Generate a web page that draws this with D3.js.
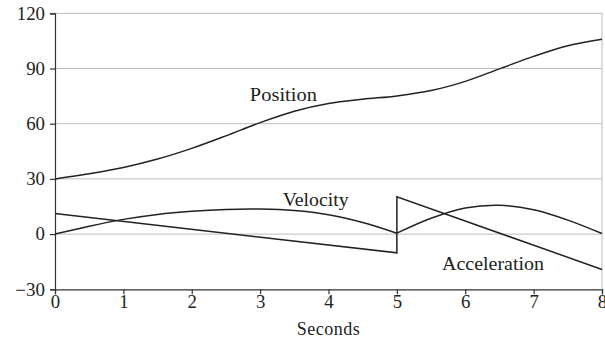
<!DOCTYPE html>
<html>
  <head>
    <meta charset="utf-8" />
    <style>
      body { margin: 0; background: #fff; }
      svg text { font-family: "Liberation Serif", "DejaVu Serif", "Times New Roman", serif; fill: #222; }
      .grid line { stroke: #bdbdbd; stroke-width: 1px; }
      .axis path, .axis line { stroke: #333; stroke-width: 1.2px; }
      .axis text { font-size: 18px; }
      .series { fill: none; stroke: #222; stroke-width: 1.5px; }
    </style>
  </head>
  <body>
    <svg width="605" height="339"></svg>
    <script src="https://d3js.org/d3.v7.min.js"></script>
    <script>
      // values
      var posT = [0, 0.5, 1, 1.5, 2, 2.5, 3, 3.5, 4, 4.5, 5, 5.5, 6, 6.5, 7, 7.5, 8];
      var position = [30, 32.8, 36.2, 40.8, 46.6, 53.4, 60.6, 66.8, 71, 73.3, 75.1, 78, 83, 89.8, 96.6, 102.4, 105.9];

      var velT1 = [0, 0.5, 1, 1.5, 2, 2.5, 3, 3.5, 4, 4.5, 5];
      var velocity1 = [0, 4.3, 8, 10.7, 12.4, 13.4, 13.6, 12.8, 10.5, 6.3, 0.5];
      var velT2 = [5, 5.5, 6, 6.5, 7, 7.5, 8];
      var velocity2 = [0.5, 8.6, 14.2, 15.7, 13.2, 7.6, 0.3];

      var accT = [0, 5, 5, 8];
      var acceleration = [11.2, -10.2, 20.3, -19.2];

      var xTicks = [0, 1, 2, 3, 4, 5, 6, 7, 8];
      var yTicks = [-30, 0, 30, 60, 90, 120];
      var labels = [
        { text: "Position", t: 2.85, v: 72.5, w: 67 },
        { text: "Velocity", t: 3.33, v: 15.2, w: 66 },
        { text: "Acceleration", t: 5.66, v: -19.5, w: 102 }
      ];

      var svg = d3.select("svg"),
        margin = { top: 13.3, right: 3, bottom: 49.7, left: 55 },
        width = 605 - margin.left - margin.right,
        height = 339 - margin.top - margin.bottom;

      var g = svg.append("g").attr("transform", "translate(" + margin.left + "," + margin.top + ")");

      var x = d3.scaleLinear().domain([0, 8]).range([0, width]);
      var y = d3.scaleLinear().domain([-30, 120]).range([height, 0]);

      // gridlines
      g.append("g")
        .attr("class", "grid")
        .selectAll("line")
        .data(yTicks.filter(function (d) { return d > -30; }))
        .enter()
        .append("line")
        .attr("x1", 0)
        .attr("x2", width)
        .attr("y1", function (d) { return y(d); })
        .attr("y2", function (d) { return y(d); });

      g.append("line")
        .attr("x1", width).attr("x2", width)
        .attr("y1", 0).attr("y2", height)
        .style("stroke", "#bdbdbd");

      // axes
      var fmtY = function (d) { return d < 0 ? "\u2212" + Math.abs(d) : String(d); };

      var xAxis = g.append("g")
        .attr("class", "axis")
        .attr("transform", "translate(0," + height + ")")
        .call(d3.axisBottom(x).tickValues(xTicks).tickFormat(d3.format("d")).tickSizeOuter(0).tickSize(5).tickPadding(1));

      var yAxis = g.append("g")
        .attr("class", "axis")
        .call(d3.axisLeft(y).tickValues(yTicks).tickFormat(fmtY).tickSizeOuter(0).tickSize(5).tickPadding(5));

      [xAxis, yAxis].forEach(function (a) {
        a.attr("font-family", null).attr("font-size", null);
        a.selectAll(".tick text")
          .attr("textLength", function () {
            var s = this.textContent;
            return s.length * 9.4 + (s.charAt(0) === "\u2212" ? 1.5 : 0);
          })
          .attr("lengthAdjust", "spacingAndGlyphs");
      });

      svg.append("text")
        .attr("x", margin.left + width / 2)
        .attr("y", 335)
        .attr("text-anchor", "middle")
        .style("font-size", "18px")
        .style("letter-spacing", "0.5px")
        .text("Seconds");

      // series
      var line = d3.line()
        .x(function (d) { return x(d[0]); })
        .y(function (d) { return y(d[1]); });

      g.append("path").attr("class", "series")
        .attr("d", line.curve(d3.curveMonotoneX)(d3.zip(posT, position)));
      line.curve(d3.curveCatmullRom.alpha(0.5));
      g.append("path").attr("class", "series").attr("d", line(d3.zip(velT1, velocity1)));
      g.append("path").attr("class", "series").attr("d", line(d3.zip(velT2, velocity2)));
      line.curve(d3.curveLinear);
      g.append("path").attr("class", "series").attr("d", line(d3.zip(accT, acceleration)));

      g.selectAll(".label")
        .data(labels)
        .enter()
        .append("text")
        .attr("class", "label")
        .attr("x", function (d) { return x(d.t); })
        .attr("y", function (d) { return y(d.v); })
        .attr("textLength", function (d) { return d.w; })
        .attr("lengthAdjust", "spacingAndGlyphs")
        .style("font-size", "18px")
        .text(function (d) { return d.text; });
    </script>
  </body>
</html>
